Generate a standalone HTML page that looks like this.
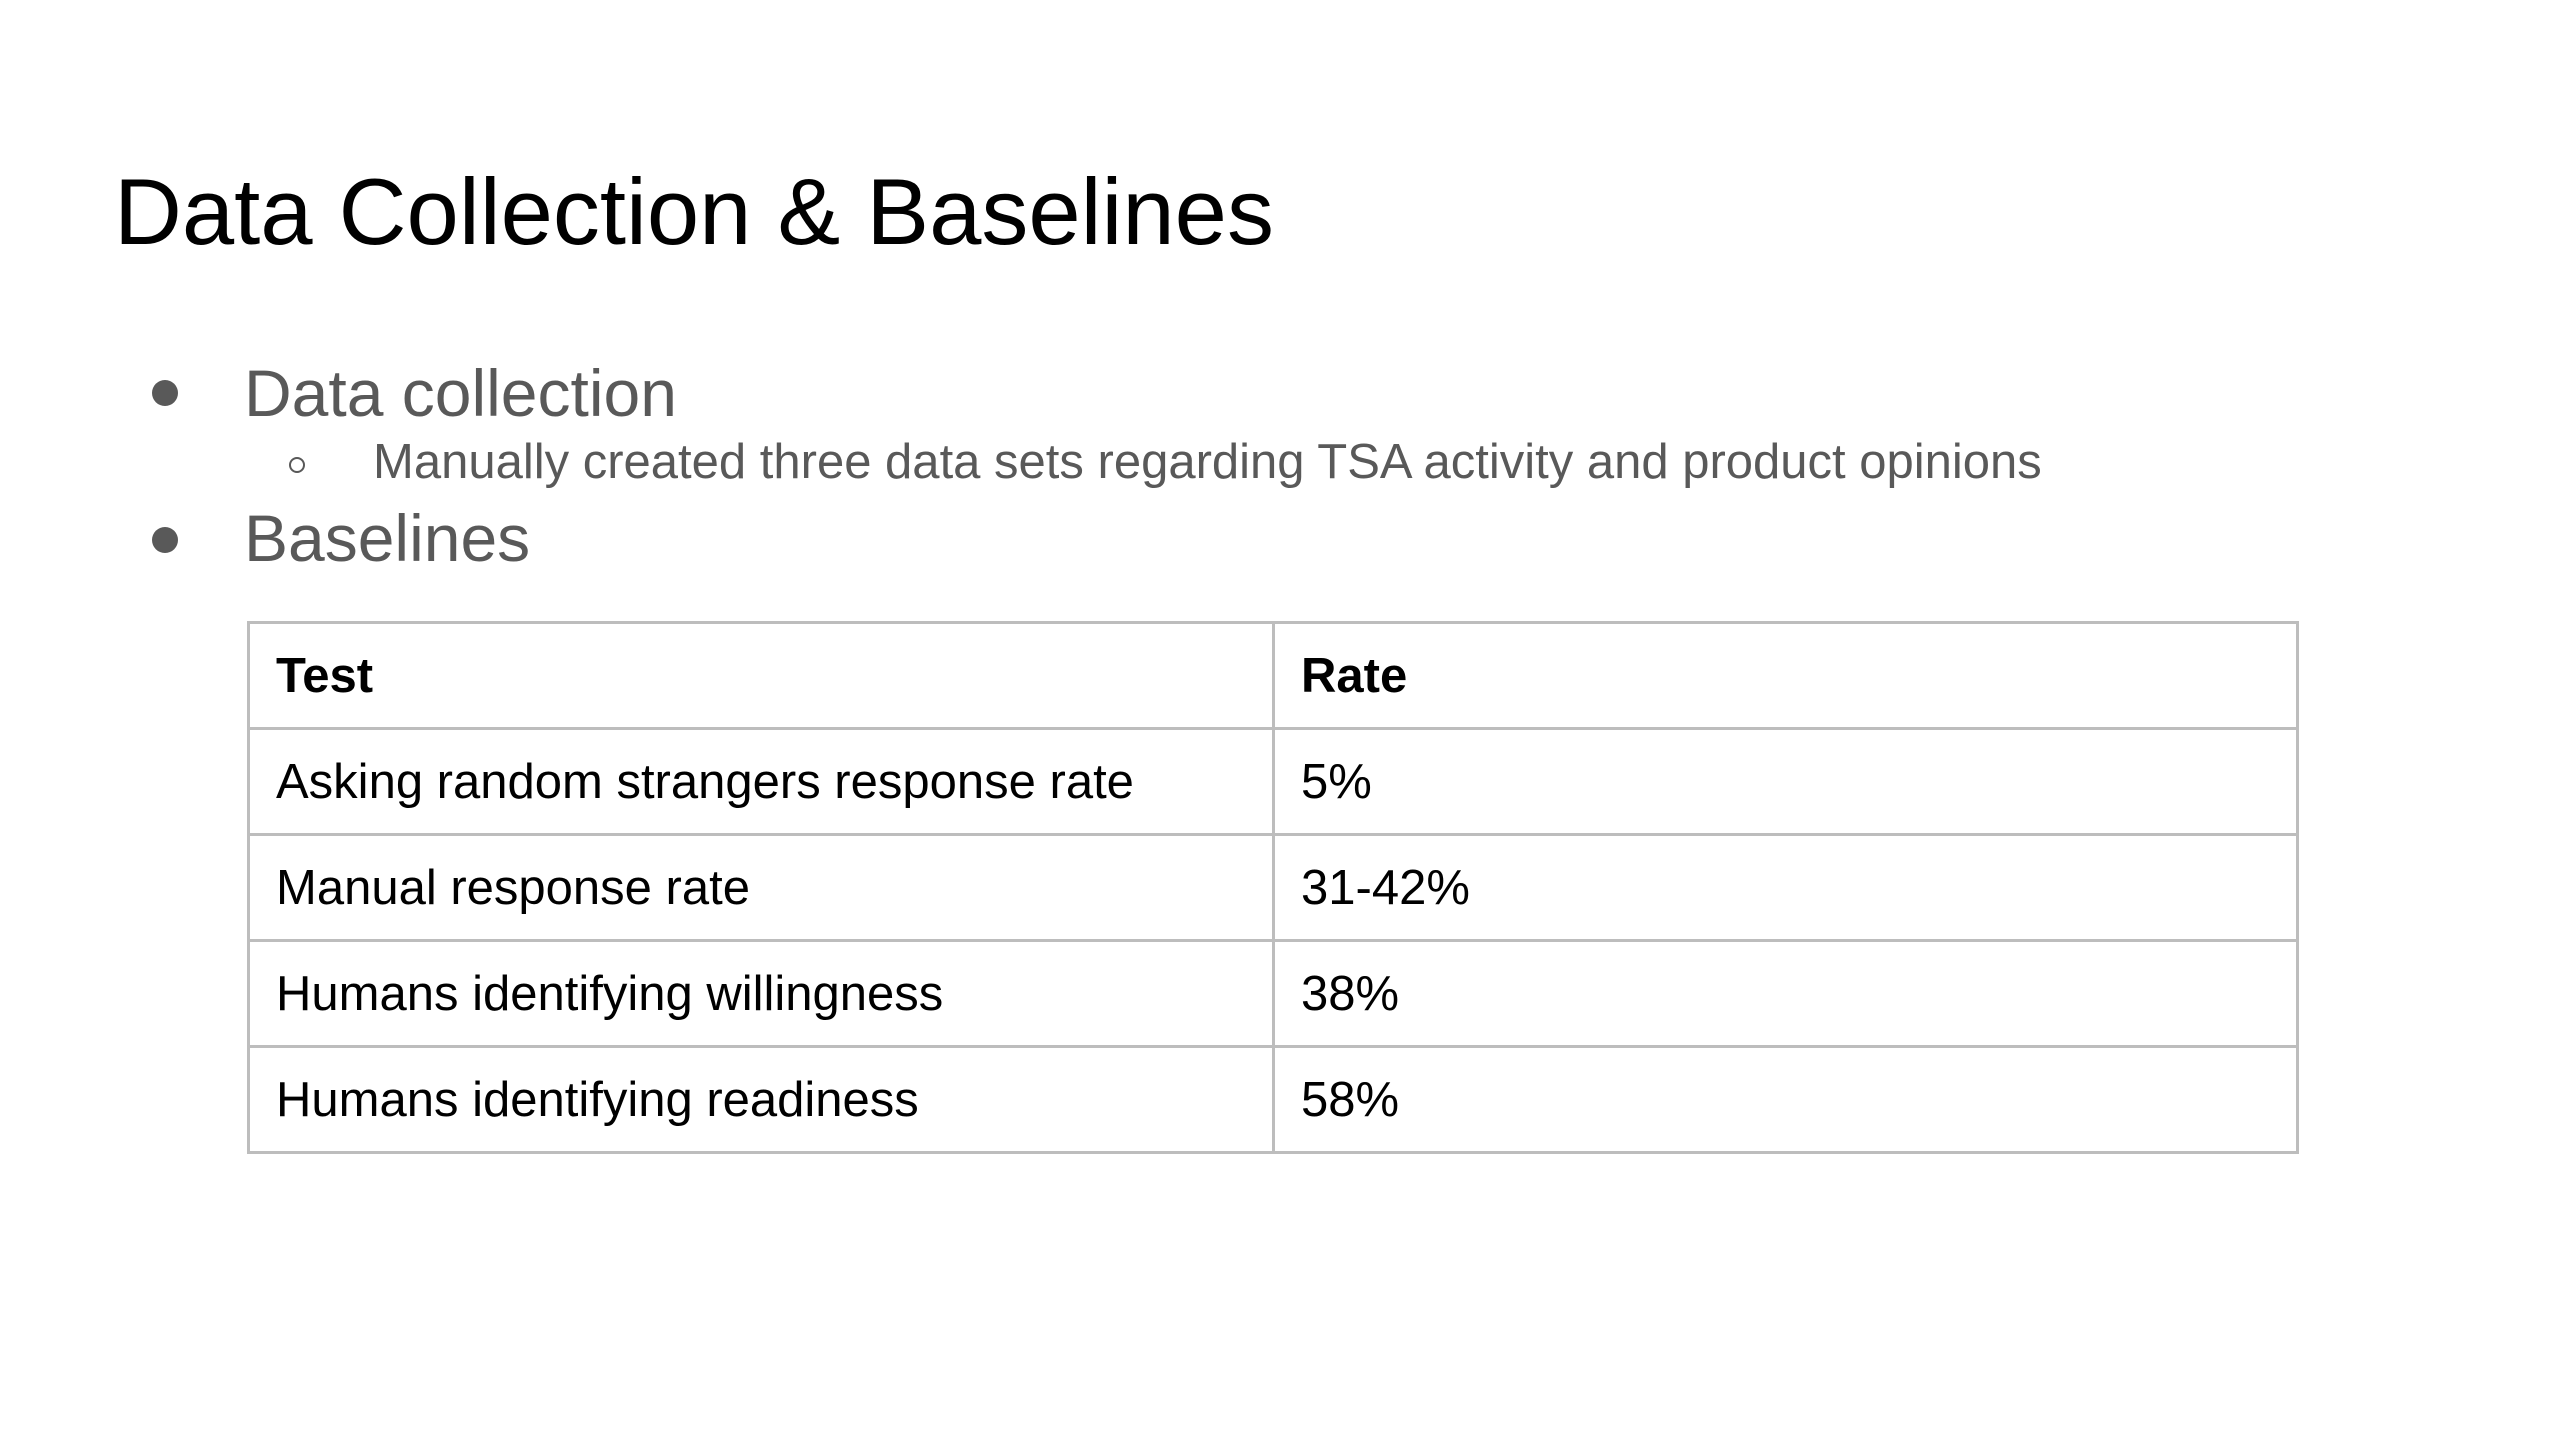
<!DOCTYPE html>
<html><head><meta charset="utf-8"><style>
body{margin:0;width:2560px;height:1440px;background:#fff;position:relative;overflow:hidden;font-family:"Liberation Sans",Arial,sans-serif}
.t{position:absolute;white-space:nowrap;line-height:1}
#title{left:114px;top:165px;font-size:94px;color:#000}
.b1{font-size:66px;color:#595959}
.dot{position:absolute;width:26px;height:26px;border-radius:50%;background:#595959}
.circ{position:absolute;width:16px;height:16px;border-radius:50%;border:2.5px solid #595959;box-sizing:border-box}
table{position:absolute;left:247px;top:621px;border-collapse:collapse;font-size:49px;color:#000}
td{border:3px solid #bdbdbd;height:106px;padding:0 0 0 26px;vertical-align:middle;box-sizing:border-box}
td.c1{width:1025px}td.c2{width:1024px}
tr:first-child td{font-weight:bold}
</style></head><body>
<div class="t" id="title">Data Collection &amp; Baselines</div>
<div class="dot" style="left:152px;top:380px"></div>
<div class="t b1" style="left:244px;top:360px">Data collection</div>
<div class="circ" style="left:289px;top:457px"></div>
<div class="t" style="left:373px;top:438px;font-size:49px;color:#595959">Manually created three data sets regarding TSA activity and product opinions</div>
<div class="dot" style="left:152px;top:527px"></div>
<div class="t b1" style="left:244px;top:505px">Baselines</div>
<table>
<tr><td class="c1">Test</td><td class="c2">Rate</td></tr>
<tr><td class="c1">Asking random strangers response rate</td><td class="c2">5%</td></tr>
<tr><td class="c1">Manual response rate</td><td class="c2">31-42%</td></tr>
<tr><td class="c1">Humans identifying willingness</td><td class="c2">38%</td></tr>
<tr><td class="c1">Humans identifying readiness</td><td class="c2">58%</td></tr>
</table>
</body></html>
